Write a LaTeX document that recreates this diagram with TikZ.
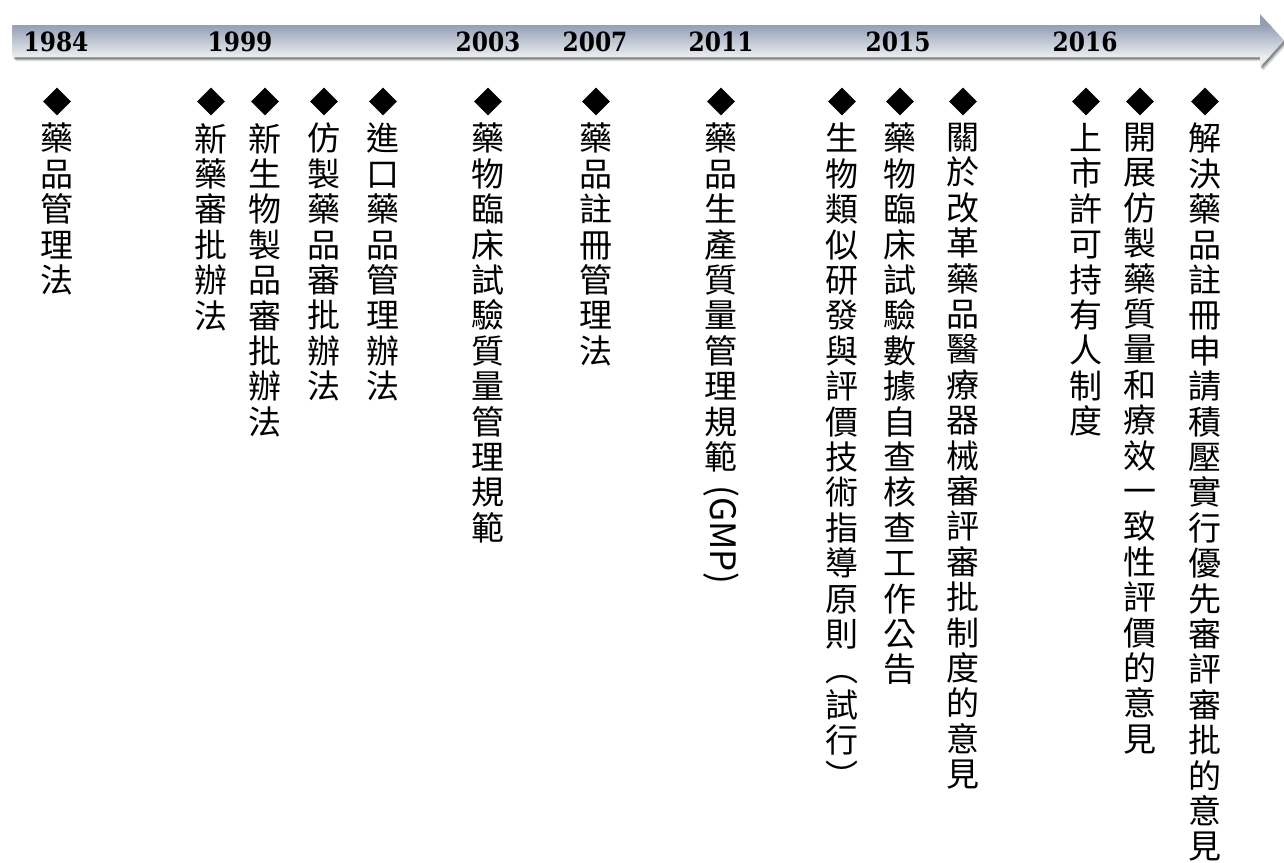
\documentclass[tikz,border=0pt]{standalone}
\usepackage{fontspec}
\usetikzlibrary{shapes.geometric,calc}
\newfontfamily\cjk{Noto Sans CJK TC}
\newfontfamily\yearfont{DejaVu Serif}[FakeStretch=0.88]
\definecolor{bartop}{HTML}{949FB5}
\definecolor{barbot}{HTML}{EDEEF1}
\ExplSyntaxOn
\NewDocumentCommand\vstack{m}
 {
  \vbox:n
   {
    \baselineskip=35.4pt \lineskiplimit=-100pt
    \tl_map_inline:nn {#1} { \hbox_to_wd:nn {1.05em} { \hss ##1 \hss } }
   }
 }
\ExplSyntaxOff
\begin{document}
\begin{tikzpicture}[x=1pt,y=-1pt,
  dmd/.style={diamond, fill=black, minimum width=28pt, minimum height=28pt, inner sep=0pt},
  lbl/.style={anchor=north, inner sep=0pt, font=\cjk\fontsize{33}{35.4}\selectfont},
  yr/.style={anchor=base, inner sep=0pt, font=\yearfont\bfseries\fontsize{26.5}{30}\selectfont}]
\useasboundingbox (0,0) rectangle (1284,862);
\fill[white] (0,0) rectangle (1284,862);
% shadow of the arrow
\foreach \dx/\dy/\op in {3/4/0.12, 2/3/0.18, 1.2/2/0.25}{
  \fill[black, opacity=\op, shift={(\dx,\dy)}]
    (12.7,25) -- (1260,25) -- (1260,14) -- (1284,40.5) -- (1260,67) -- (1260,57) -- (12.7,57) -- cycle;
}
% arrow body with gradient
\begin{scope}
  \clip (12.7,25) -- (1260,25) -- (1260,14) -- (1284,40.5) -- (1260,67) -- (1260,57) -- (12.7,57) -- cycle;
  \fill[bartop] (0,0) rectangle (1290,25.5);
  \fill[barbot] (0,56.5) rectangle (1290,80);
  \shade[top color=bartop, bottom color=barbot] (0,25) rectangle (1290,57);
\end{scope}
% years
\node[yr] (y1984) at (56,51.5) {1984};
\node[yr] (y1999) at (240,51.5) {1999};
\node[yr] (y2003) at (488,51.5) {2003};
\node[yr] (y2007) at (595,51.5) {2007};
\node[yr] (y2011) at (721,51.5) {2011};
\node[yr] (y2015) at (898,51.5) {2015};
\node[yr] (y2016) at (1085,51.5) {2016};
% diamonds
\foreach \n/\x in {1/57, 2/211, 3/265, 4/324, 5/383, 6/488, 7/596, 8/721, 9/842, 10/900, 11/963, 12/1086, 13/1140, 14/1205}{
  \node[dmd] (d\n) at (\x,101.5) {};
}
% labels
\node[lbl] (t1) at (57,123) {\vstack{藥品管理法}};
\node[lbl] (t2) at (211,123) {\vstack{新藥審批辦法}};
\node[lbl] (t3) at (265,123) {\vstack{新生物製品審批辦法}};
\node[lbl] (t4) at (324,123) {\vstack{仿製藥品審批辦法}};
\node[lbl] (t5) at (383,123) {\vstack{進口藥品管理辦法}};
\node[lbl] (t6) at (488,123) {\vstack{藥物臨床試驗質量管理規範}};
\node[lbl] (t7) at (596,123) {\vstack{藥品註冊管理法}};
\node[lbl] (t8) at (721,123) {\vstack{藥品生產質量管理規範}};
\node[rotate=-90, anchor=west, inner sep=0pt, font=\cjk\fontsize{35}{40}\selectfont] (g8) at ($(t8.south)+(0,13)$) {(GMP)};
\node[lbl] (t9) at (842,123) {\vstack{生物類似研發與評價技術指導原則︵試行︶}};
\node[lbl] (t10) at (900,123) {\vstack{藥物臨床試驗數據自查核查工作公告}};
\node[lbl] (t11) at (963,123) {\vstack{關於改革藥品醫療器械審評審批制度的意見}};
\node[lbl] (t12) at (1086,123) {\vstack{上市許可持有人制度}};
\node[lbl] (t13) at (1140,123) {\vstack{開展仿製藥質量和療效一致性評價的意見}};
\node[lbl] (t14) at (1205,123) {\vstack{解決藥品註冊申請積壓實行優先審評審批的意見}};
\end{tikzpicture}
\end{document}
